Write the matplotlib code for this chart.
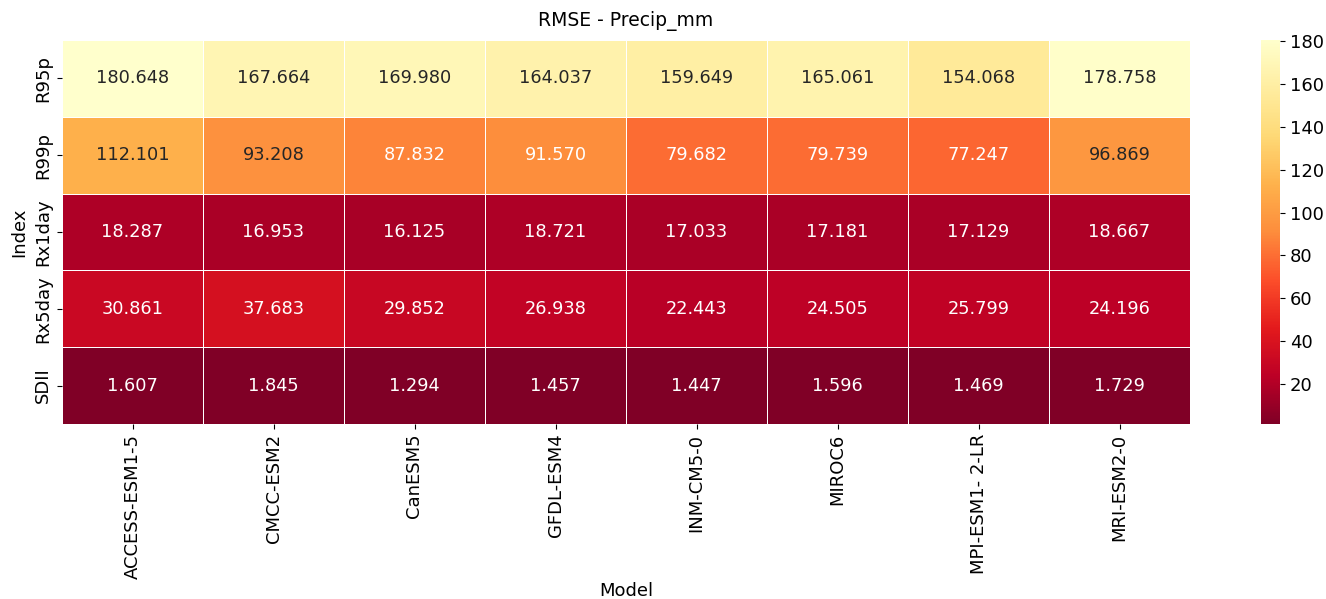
import matplotlib
matplotlib.use("Agg")
import matplotlib.pyplot as plt
import numpy as np
import pandas as pd
import seaborn as sns

models = ["ACCESS-ESM1-5", "CMCC-ESM2", "CanESM5", "GFDL-ESM4", "INM-CM5-0",
          "MIROC6", "MPI-ESM1- 2-LR", "MRI-ESM2-0"]
indices = ["R95p", "R99p", "Rx1day", "Rx5day", "SDII"]

r95p = [180.648, 167.664, 169.980, 164.037, 159.649, 165.061, 154.068, 178.758]
r99p = [112.101, 93.208, 87.832, 91.570, 79.682, 79.739, 77.247, 96.869]
rx1day = [18.287, 16.953, 16.125, 18.721, 17.033, 17.181, 17.129, 18.667]
rx5day = [30.861, 37.683, 29.852, 26.938, 22.443, 24.505, 25.799, 24.196]
sdii = [1.607, 1.845, 1.294, 1.457, 1.447, 1.596, 1.469, 1.729]

df = pd.DataFrame([r95p, r99p, rx1day, rx5day, sdii], index=indices, columns=models)
df.index.name = "Index"
df.columns.name = "Model"

fig = plt.figure(figsize=(13.26, 5.99), dpi=100)
ax = fig.add_axes([62 / 1326, 1 - 424 / 599, (1190 - 62) / 1326, (424 - 40) / 599])
cax = fig.add_axes([1261 / 1326, 1 - 424 / 599, 19 / 1326, (424 - 40) / 599])

sns.heatmap(df, annot=True, fmt=".3f", cmap="YlOrRd_r", linewidths=0.7, linecolor="white",
            annot_kws={"size": 12.8}, ax=ax, cbar_ax=cax)
ax.set_title("RMSE - Precip_mm", fontsize=13.5, pad=10)
ax.set_xlabel("Model", fontsize=13, labelpad=2)
ax.set_ylabel("Index", fontsize=13)
ax.tick_params(axis="both", labelsize=13)
plt.setp(ax.get_xticklabels(), rotation=90)
plt.setp(ax.get_yticklabels(), rotation=90, va="center")
cax.tick_params(labelsize=13)
cax.set_yticks([20, 40, 60, 80, 100, 120, 140, 160, 180])

fig.savefig("out.png", dpi=100)
